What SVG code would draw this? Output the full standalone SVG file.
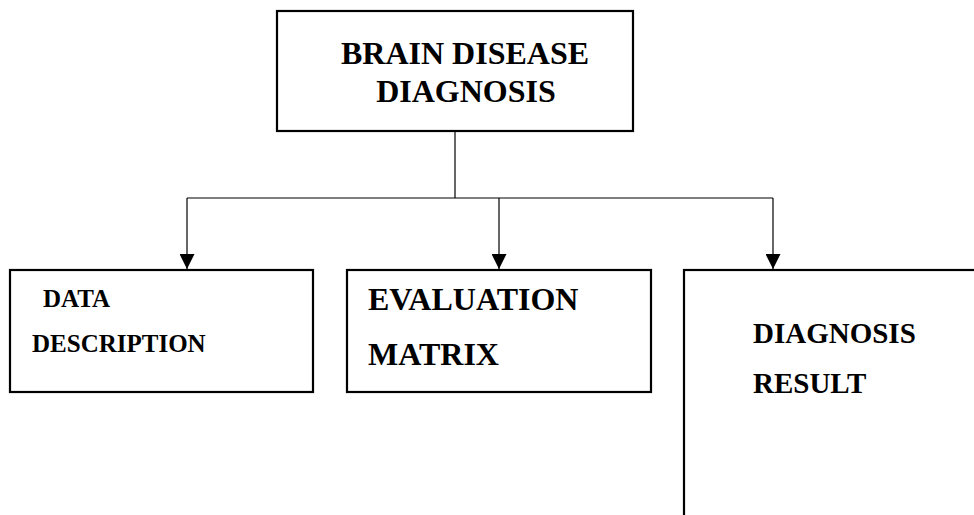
<svg xmlns="http://www.w3.org/2000/svg" width="974" height="515" viewBox="0 0 974 515">
<style>
.box{fill:#fff;stroke:#000;stroke-width:2.2}
.t{font-family:"Liberation Serif","Times New Roman",serif;font-weight:bold;fill:#000}
.c{fill:none;stroke:#000;stroke-width:1.2}
</style>
<defs>
<marker id="ah" markerUnits="userSpaceOnUse" markerWidth="16" markerHeight="15" refX="15" refY="7.5" orient="auto">
<path d="M0,0 L15,7.5 L0,15 Z" fill="#000"/>
</marker>
</defs>
<rect width="974" height="515" fill="#fff"/>
<g id="connectors">
<line class="c" x1="455" y1="131" x2="455" y2="198"/>
<line class="c" x1="187" y1="198" x2="773" y2="198"/>
<line class="c" x1="187" y1="198" x2="187" y2="269" marker-end="url(#ah)"/>
<line class="c" x1="499" y1="198" x2="499" y2="269" marker-end="url(#ah)"/>
<line class="c" x1="773" y1="198" x2="773" y2="269" marker-end="url(#ah)"/>
</g>
<g id="brain-disease-diagnosis">
<rect class="box" x="277" y="11" width="356" height="120"/>
<text class="t" x="465" y="64" font-size="32" text-anchor="middle">BRAIN DISEASE</text>
<text class="t" x="466" y="102" font-size="32" text-anchor="middle">DIAGNOSIS</text>
</g>
<g id="data-description">
<rect class="box" x="10" y="270" width="303" height="122"/>
<text class="t" x="43" y="307" font-size="25">DATA</text>
<text class="t" x="32" y="352" font-size="25">DESCRIPTION</text>
</g>
<g id="evaluation-matrix">
<rect class="box" x="347" y="270" width="304" height="122"/>
<text class="t" x="368" y="310" font-size="32">EVALUATION</text>
<text class="t" x="368" y="365" font-size="32">MATRIX</text>
</g>
<g id="diagnosis-result">
<rect class="box" x="684" y="270" width="300" height="300"/>
<text class="t" x="753" y="343" font-size="29">DIAGNOSIS</text>
<text class="t" x="753" y="393" font-size="29">RESULT</text>
</g>
</svg>
